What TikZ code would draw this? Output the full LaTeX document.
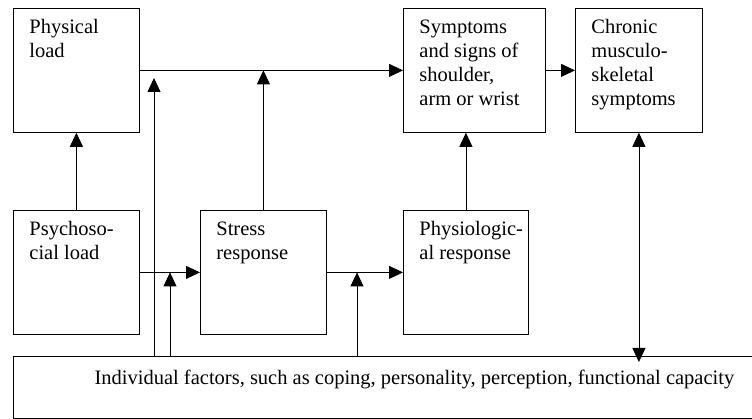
\documentclass[tikz,border=0pt]{standalone}
\usepackage{fontspec}
\setmainfont{Liberation Serif}
\usetikzlibrary{arrows.meta}

\tikzset{
    blk/.style={draw, line width=0.8pt, inner sep=0pt, anchor=north west},
    bigtri/.tip={Triangle[length=14pt,width=13pt]},
    arr/.style={line width=0.8pt, -bigtri},
}
% box text: width, lines (top left inside the box)
\newcommand{\boxtext}[2]{\begin{minipage}[t][124pt][t]{#1pt}\raggedright\leftskip=16pt\rule{0pt}{25pt}#2\end{minipage}}

\begin{document}
\begin{tikzpicture}[x=1pt, y=-1pt, font=\fontsize{20.5}{24}\selectfont]
                \useasboundingbox (0,0) rectangle (752,419);
                \node[blk] (phys) at (13,8) {\boxtext{126}{Physical\\load}};
                \node[blk] (symp) at (403,8) {\boxtext{142}{Symptoms\\and signs of\\shoulder,\\arm or wrist}};
                \node[blk] (chron) at (575,8) {\boxtext{127}{Chronic\\musculo-\\skeletal\\symptoms}};
                \node[blk] (psych) at (13,210) {\boxtext{126}{Psychoso-\\cial load}};
                \node[blk] (stress) at (200,210) {\boxtext{126}{Stress\\response}};
                \node[blk] (physio) at (403,210) {\boxtext{125}{Physiologic-\\al response}};
                \node[blk, minimum width=802pt, minimum height=62pt, text depth=20pt] (indiv) at (13,356) {Individual factors, such as coping, personality, perception, functional capacity};
                \coordinate (c1) at (154,78);
                \coordinate (c2) at (170,0);
                \coordinate (c3) at (357,0);
                \draw[arr] (phys.east) -- (symp.west);
                \draw[arr] (symp.east) -- (chron.west);
                \draw[arr] (psych.north) -- (phys.south);
                \draw[arr] (stress.north) -- (stress.north |- phys.east);
                \draw[arr] (c1 |- indiv.north) -- (c1);
                \draw[arr] (psych.east) -- (stress.west);
                \draw[arr] (c2 |- indiv.north) -- (c2 |- psych.east);
                \draw[arr] (stress.east) -- (physio.west);
                \draw[arr] (c3 |- indiv.north) -- (c3 |- stress.east);
                \draw[arr] (physio.north) -- (physio.north |- symp.south);
                \draw[arr, bigtri-bigtri, shorten >=-6pt] (chron.south) -- (chron.south |- indiv.north);
            \end{tikzpicture}
\end{document}
